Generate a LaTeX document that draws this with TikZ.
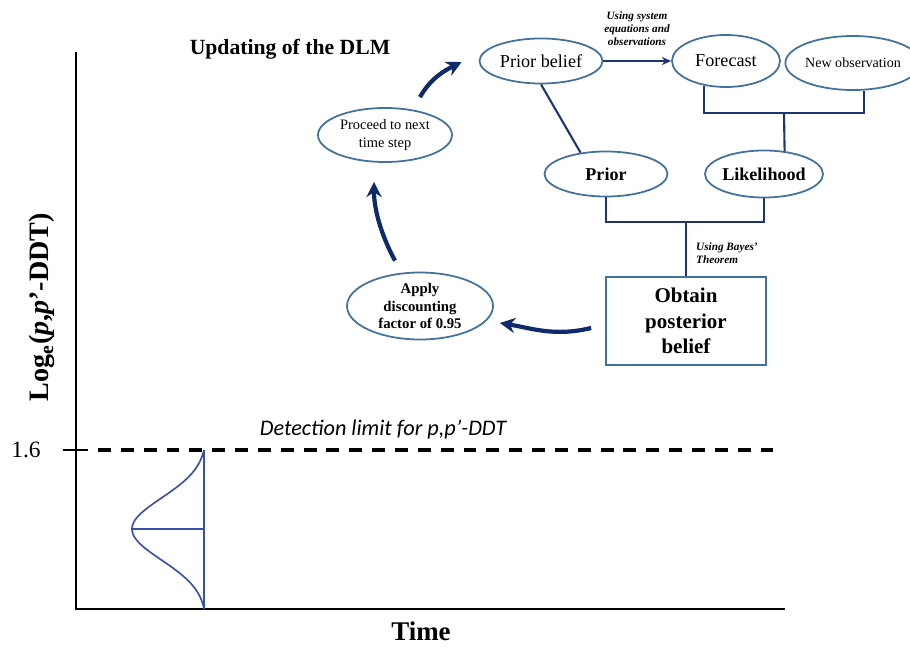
\documentclass[tikz,border=0pt]{standalone}
\usepackage{fontspec}
\setmainfont{Liberation Serif}
\newfontfamily\detfont{Carlito}
\usetikzlibrary{shapes.geometric,arrows.meta}
\definecolor{ellc}{HTML}{41719C}
\definecolor{conn}{HTML}{1F3473}
\definecolor{arrc}{HTML}{0E2A6B}
\definecolor{gaus}{HTML}{3A4FA8}
\tikzset{
  ell/.style={ellipse, draw=ellc, line width=1.5pt, inner sep=0pt, align=center, fill=white},
  conline/.style={draw=conn, line width=1.8pt},
  bigarrow/.style={draw=arrc, line width=3.6pt, -{Stealth[length=13pt,width=13pt]}},
  axisline/.style={draw=black, line width=2.2pt},
}
\begin{document}
\begin{tikzpicture}[x=0.03cm,y=-0.03cm]
\useasboundingbox (0,0) rectangle (910,648);

% axes
\draw[axisline] (76,52) -- (76,609) -- (785,609);
\draw[axisline] (63,450) -- (88,450);
\draw[black, line width=2.6pt, dash pattern=on 11pt off 8.5pt] (98,450) -- (774,450);

\node (ylab) at (42,307) [rotate=90, font=\fontsize{24}{28}\selectfont\bfseries]
  {Log\textsubscript{e}(\textit{p},\textit{p}’-DDT)};
\node (tick) at (26,450) [font=\fontsize{20}{24}\selectfont] {1.6};
\node (xlab) at (421,640) [anchor=base, inner sep=0pt, font=\fontsize{23}{26}\selectfont\bfseries] {Time};
\node (det) at (383,430) [font=\fontsize{19}{23}\selectfont\detfont\itshape] {Detection limit for p,p’-DDT};

% gaussian
\draw[gaus, line width=1.4pt] plot[domain=-79:80, samples=80, smooth]
  ({204-72*(exp(-(\x/31)*(\x/31)/2)-0.038)/0.962}, {529+\x});
\draw[gaus, line width=1.4pt] (204,450) -- (204,609);
\draw[gaus, line width=1.4pt] (132,529) -- (204,529);

% title
\node (title) at (290,49) [font=\fontsize{18.5}{22}\selectfont\bfseries] {Updating of the DLM};

% nodes
\node[ell, minimum width=3.69cm, minimum height=1.35cm, font=\fontsize{15.5}{18}\selectfont] (pb) at (541,61) {Prior belief};
\node[ell, minimum width=3.24cm, minimum height=1.56cm, font=\fontsize{15.5}{18}\selectfont] (fc) at (726,61) {Forecast};
\node[ell, minimum width=3.48cm, minimum height=1.62cm, font=\fontsize{12}{14}\selectfont] (no) at (853,63) {New observation};
\node[ell, minimum width=3.54cm, minimum height=1.41cm, font=\fontsize{15.4}{18}\selectfont\bfseries] (lk) at (764,174) {Likelihood};
\node[ell, minimum width=3.69cm, minimum height=1.35cm, font=\fontsize{15.4}{18}\selectfont\bfseries] (pr) at (606,174) {Prior};
\node[draw=ellc, line width=1.5pt, minimum width=4.8cm, minimum height=2.64cm, align=center,
      font=\fontsize{17.9}{21.7}\selectfont\bfseries] (box) at (686,321) {Obtain\\posterior\\belief};
\node[ell, minimum width=4.38cm, minimum height=2.01cm, font=\fontsize{12.6}{14.9}\selectfont\bfseries] (apply) at (420,306) {Apply\\discounting\\factor of 0.95};
\node[ell, minimum width=4.02cm, minimum height=1.62cm, font=\fontsize{12.3}{15}\selectfont] (proc) at (385,135) {Proceed to next\\time step};

% labels
\node (lab1) at (637,29) [align=center, font=\fontsize{9.6}{11.2}\selectfont\bfseries\itshape]
  {Using system\\equations and\\observations};
\node (lab2) at (692,253) [anchor=west, align=left, font=\fontsize{9.6}{11.2}\selectfont\bfseries\itshape]
  {Using Bayes’\\Theorem};

% connectors
\coordinate (j1) at (784,113);
\coordinate (j2) at (686,222);
\draw[conline] (fc.228) |- (j1) -| (no.291);
\draw[conline] (j1) -- (lk.48);
\draw[conline] (pb.south) -- (pr.140);
\draw[conline] (pr.south) |- (j2) -| (lk.south);
\draw[conline] (j2) -- (box.north);
\draw[conline, -{Stealth[length=8pt,width=7pt]}] (pb.east) -- (fc.west);

% cycle arrows
\draw[bigarrow] ([shift={(-14,7)}]box.west) .. controls +(-37,9) and +(31,5) .. ([shift={(6,17)}]apply.east);
\draw[bigarrow] ([shift={(-25,-11)}]apply.north) .. controls +(-12,-22) and +(0,30) .. ([shift={(-11,19)}]proc.south);
\draw[bigarrow] ([shift={(35,-10)}]proc.north) .. controls +(10,-18) and +(-18,9) .. ([shift={(-17,1)}]pb.west);
\end{tikzpicture}
\end{document}
